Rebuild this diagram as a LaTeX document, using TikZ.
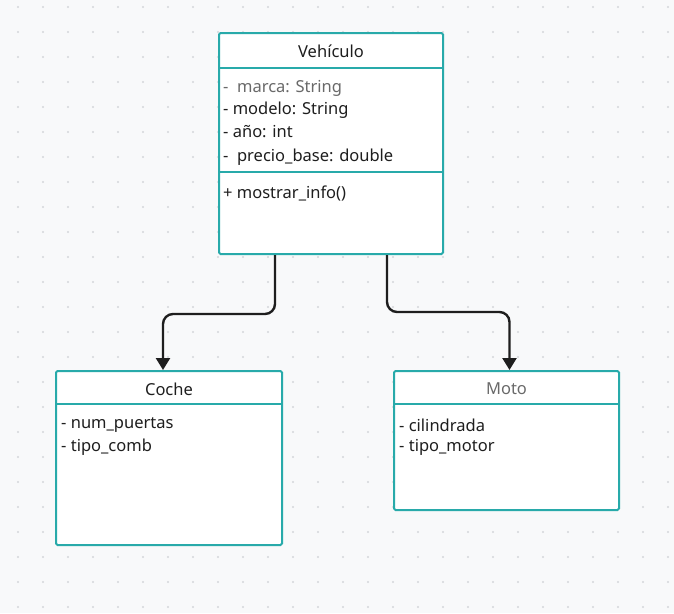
\documentclass[tikz,border=0pt]{standalone}
\usepackage{fontspec}
\setmainfont{Noto Sans}
\usetikzlibrary{
	arrows.meta,
	calc,
	positioning
}
\definecolor{BoxTeal}{RGB}{40,170,170}
\definecolor{PageGray}{RGB}{248,249,250}
\definecolor{DotGray}{RGB}{212,214,218}
\definecolor{SoftText}{RGB}{105,105,105}
\definecolor{InkBlack}{RGB}{30,30,30}

\begin{document}
\begin{tikzpicture}[x=1pt, y=-1pt, font=\fontsize{16.5}{19}\selectfont,
	classbox/.style={draw=BoxTeal, line width=2pt, fill=white, rounded corners=1.5pt, anchor=north west, inner sep=0pt},
	divider/.style={draw=BoxTeal, line width=2pt},
	title/.style={inner sep=0pt, text=InkBlack},
	field/.style={anchor=west, inner sep=0pt, text=InkBlack},
	inherit/.style={draw=InkBlack, line width=2.4pt, rounded corners=10pt, -{Triangle[length=12pt, width=14pt]}}]
			% fondo punteado
			\fill[PageGray] (0,0) rectangle (674,613);
			\useasboundingbox (0,0) rectangle (674,613);
			\foreach \i in {0,...,26}
				\foreach \j in {0,...,24}
					\fill[DotGray] (18+25*\i, 7+25*\j) circle (1.2pt);
			% clase padre
			\node[classbox, minimum width=224pt, minimum height=221pt] (veh) at (218,32) {};
			\node[title] (vehname) at ($(veh.north)+(0,19)$) {Vehículo};
			\draw[divider] ($(veh.north west)+(0,36)$) -- ($(veh.north east)+(0,36)$);
			\node[field, text=SoftText] (marca) at ($(veh.north west)+(5,56)$) {-\ \ marca: String};
			\node[field] (modelo) at ($(veh.north west)+(5,78)$) {- modelo: String};
			\node[field] (anio) at ($(veh.north west)+(5,100)$) {- año: int};
			\node[field] (precio) at ($(veh.north west)+(5,125)$) {-\ \ precio\_base: double};
			\draw[divider] ($(veh.north west)+(0,140)$) -- ($(veh.north east)+(0,140)$);
			\node[field] (mostrar) at ($(veh.north west)+(5,161)$) {+ mostrar\_info()};
			% subclases
			\node[classbox, minimum width=226pt, minimum height=174pt] (coche) at (55,370) {};
			\node[title] (cochename) at ($(coche.north)+(0,19)$) {Coche};
			\draw[divider] ($(coche.north west)+(0,34)$) -- ($(coche.north east)+(0,34)$);
			\node[field] (puertas) at ($(coche.north west)+(6,55)$) {- num\_puertas};
			\node[field] (comb) at ($(coche.north west)+(6,77)$) {- tipo\_comb};
			\node[classbox, minimum width=225pt, minimum height=139pt] (moto) at (393,370) {};
			\node[title, text=SoftText] (motoname) at ($(moto.north)+(0,19)$) {Moto};
			\draw[divider] ($(moto.north west)+(0,34)$) -- ($(moto.north east)+(0,34)$);
			\node[field] (cilindrada) at ($(moto.north west)+(6,55)$) {- cilindrada};
			\node[field] (motor) at ($(moto.north west)+(6,77)$) {- tipo\_motor};
			% herencia
			\coordinate (outl) at ($(veh.south west)+(57,0)$);
			\coordinate (outr) at ($(veh.south west)+(169,0)$);
			\coordinate (inl) at ($(coche.north)+(-6,0)$);
			\coordinate (inr) at ($(moto.north)+(3,0)$);
			\draw[inherit] (outl) -- ($(outl)+(0,59)$) -| (inl);
			\draw[inherit] (outr) -- ($(outr)+(0,57)$) -| (inr);
		\end{tikzpicture}
\end{document}
